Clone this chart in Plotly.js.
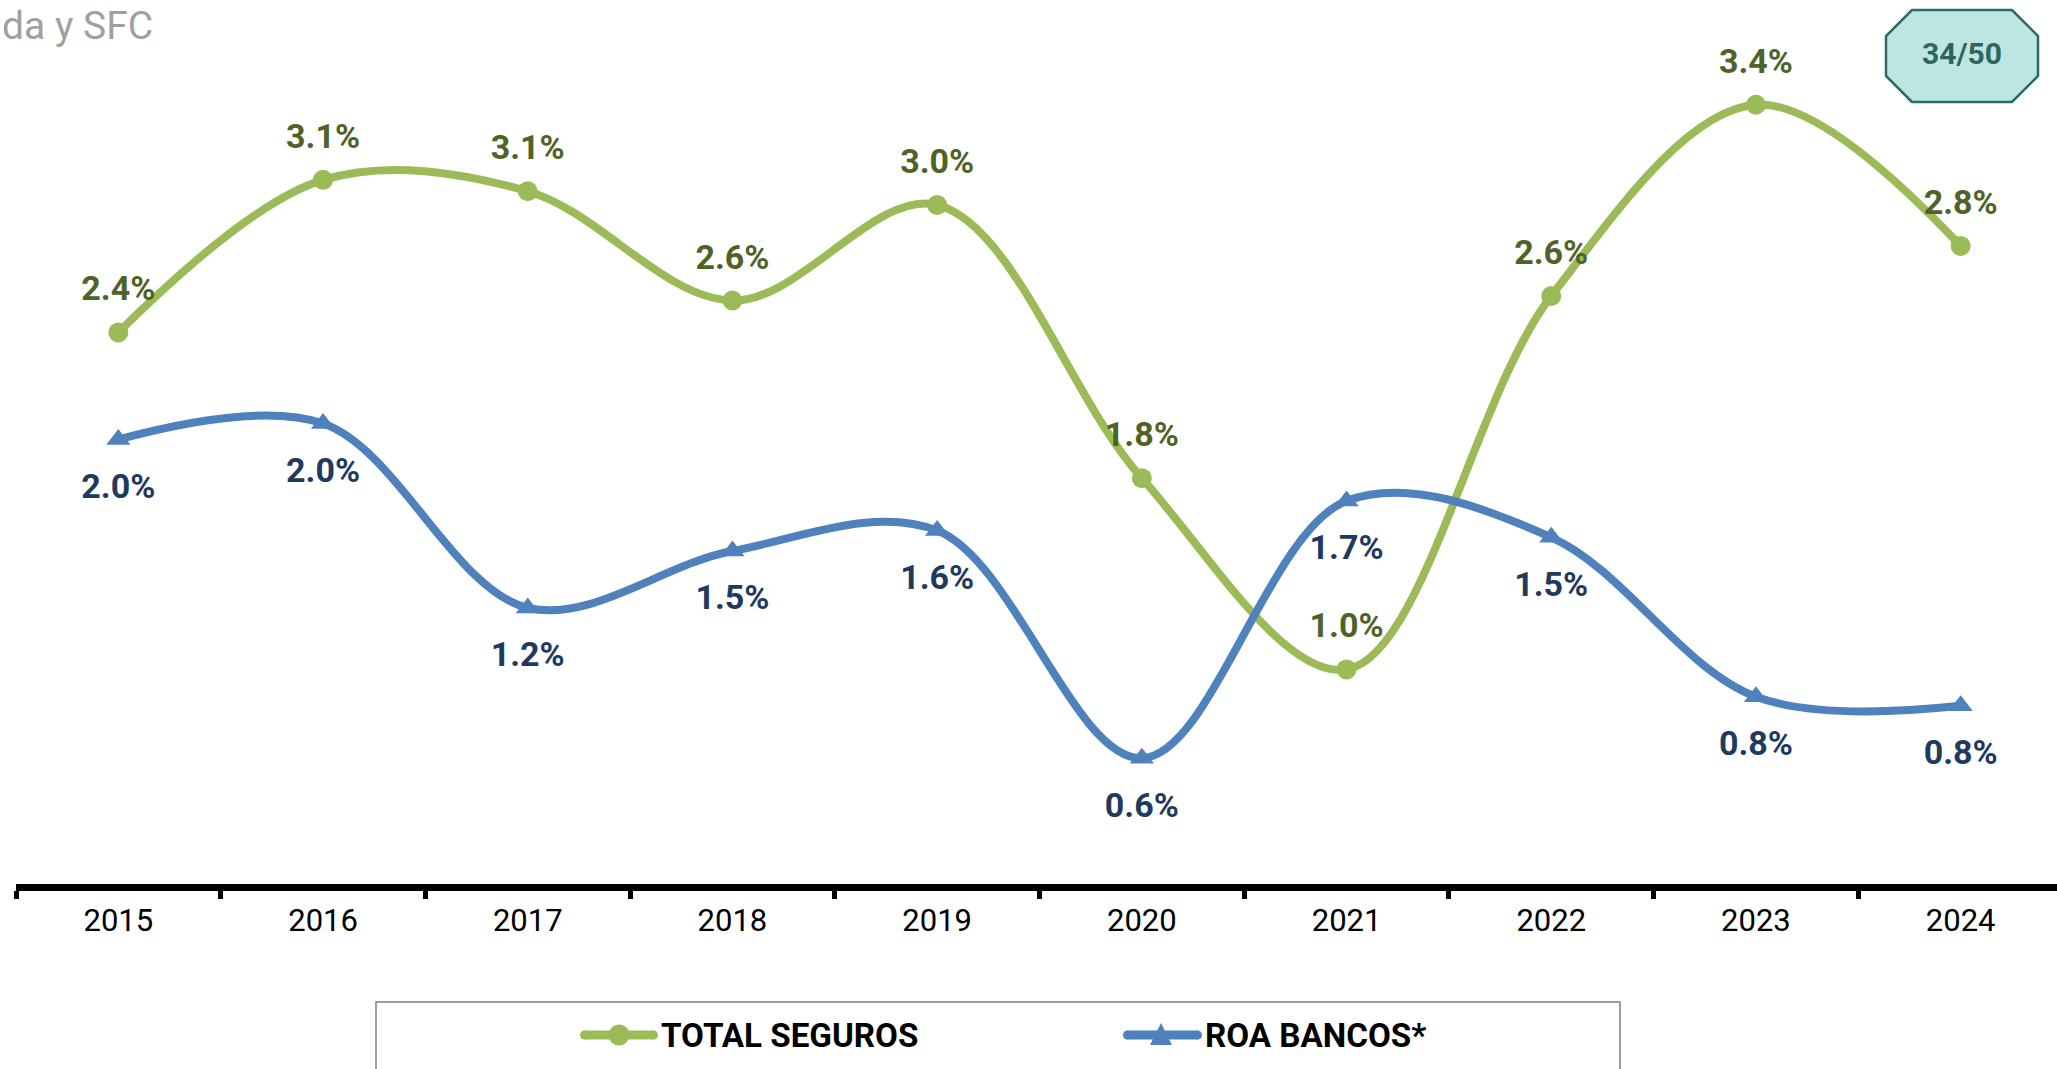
<!DOCTYPE html>
<html>
<head>
<meta charset="utf-8">
<script src="https://cdn.plot.ly/plotly-3.0.1.min.js"></script>
<style>
  html, body { margin: 0; padding: 0; background: #ffffff; }
  #chart { width: 2057px; height: 1069px; }
</style>
</head>
<body>
<div id="chart"></div>
<script>
// ---- data ----
const years = ['2015', '2016', '2017', '2018', '2019', '2020', '2021', '2022', '2023', '2024'];
const totalSeguros = [2.44, 3.11, 3.06, 2.58, 3.00, 1.80, 0.96, 2.60, 3.44, 2.82];
const roaBancos = [1.97, 2.04, 1.23, 1.48, 1.57, 0.57, 1.70, 1.54, 0.84, 0.80];
const seriesNames = ['TOTAL SEGUROS', 'ROA BANCOS*'];
const badgeText = '34/50';
const sourceText = 'da y SFC';

// ---- layout geometry ----
const W = 2057, H = 1069;
const M = { l: 16, r: 0, t: 60, b: 185 };
const plotW = W - M.l - M.r, plotH = H - M.t - M.b;
const pxPerUnit = 227.7;
const zeroPx = 888;
const yMin = -((H - M.b) - zeroPx) / pxPerUnit;
const yMax = (zeroPx - M.t) / pxPerUnit;
const px2x = px => (px - M.l) / plotW;
const py2y = py => ((H - M.b) - py) / plotH;

const FONT = 'Roboto, "Open Sans", sans-serif';
const GREEN = '#9BBB59', BLUE = '#4F81BD';
const GREEN_TXT = '#4F6228', BLUE_TXT = '#1F3A5F';
const LABEL_SIZE = 34;

const traces = [
  {
    type: 'scatter', mode: 'lines+markers',
    name: seriesNames[0], x: years, y: totalSeguros,
    line: { color: GREEN, width: 8, shape: 'spline', smoothing: 1 },
    marker: { color: GREEN, size: 20, symbol: 'circle' },
    cliponaxis: false, showlegend: false, hoverinfo: 'x+y'
  },
  {
    type: 'scatter', mode: 'lines+markers',
    name: seriesNames[1], x: years, y: roaBancos,
    line: { color: BLUE, width: 8, shape: 'spline', smoothing: 1 },
    marker: { color: BLUE, size: 21, symbol: 'triangle-up' },
    cliponaxis: false, showlegend: false, hoverinfo: 'x+y'
  },
  // data labels (invisible spacer markers set the label offset)
  {
    type: 'scatter', mode: 'markers+text', name: seriesNames[0] + ' labels',
    x: years, y: totalSeguros,
    marker: { size: 36, opacity: 0, color: GREEN },
    texttemplate: '%{y:.1f}%', textposition: 'top center',
    textfont: { family: FONT, size: LABEL_SIZE, color: GREEN_TXT, weight: 'bold' },
    cliponaxis: false, showlegend: false, hoverinfo: 'skip'
  },
  {
    type: 'scatter', mode: 'markers+text', name: seriesNames[1] + ' labels',
    x: years, y: roaBancos,
    marker: { size: 51, opacity: 0, color: BLUE },
    texttemplate: '%{y:.1f}%', textposition: 'bottom center',
    textfont: { family: FONT, size: LABEL_SIZE, color: BLUE_TXT, weight: 'bold' },
    cliponaxis: false, showlegend: false, hoverinfo: 'skip'
  }
];

// octagon badge
const bx0 = 1886, bx1 = 2038, by0 = 10, by1 = 102, cut = 26;
const oct = [
  [bx0 + cut, by0], [bx1 - cut, by0], [bx1, by0 + cut], [bx1, by1 - cut],
  [bx1 - cut, by1], [bx0 + cut, by1], [bx0, by1 - cut], [bx0, by0 + cut]
];
const toPath = pts => 'M' + pts.map(p => px2x(p[0]).toFixed(5) + ',' + py2y(p[1]).toFixed(5)).join(' L') + ' Z';

// legend geometry (custom legend)
const legY = 1035;
const leg = [
  { x0: 580, x1: 658, mk: 619, textX: 659, color: GREEN, sym: 'circle', name: seriesNames[0] },
  { x0: 1123, x1: 1202, mk: 1161, textX: 1203, color: BLUE, sym: 'triangle', name: seriesNames[1] }
];

const shapes = [
  {
    type: 'path', xref: 'paper', yref: 'paper', path: toPath(oct),
    fillcolor: '#BDE6E0', line: { color: '#2B6B63', width: 2.5 }, layer: 'above'
  },
  {
    type: 'rect', xref: 'paper', yref: 'paper',
    x0: px2x(376), x1: px2x(1620), y0: py2y(1002), y1: py2y(1080),
    line: { color: '#7F7F7F', width: 1.5 }, fillcolor: 'rgba(0,0,0,0)', layer: 'below'
  }
];
const annotations = [
  {
    text: badgeText, xref: 'paper', yref: 'paper', x: px2x(1962), y: py2y(54),
    xanchor: 'center', yanchor: 'middle', showarrow: false,
    font: { family: FONT, size: 30, color: '#2B6660', weight: 'bold' }
  },
  {
    text: sourceText, xref: 'paper', yref: 'paper', x: px2x(0), y: py2y(1),
    xanchor: 'left', yanchor: 'top', showarrow: false,
    font: { family: FONT, size: 39, color: '#A0A0A0' }
  }
];
leg.forEach(it => {
  shapes.push({
    type: 'line', xref: 'paper', yref: 'paper',
    x0: px2x(it.x0 + 4), x1: px2x(it.x1 - 4), y0: py2y(legY), y1: py2y(legY),
    line: { color: it.color, width: 9 }, layer: 'above'
  });
  if (it.sym === 'circle') {
    shapes.push({
      type: 'circle', xref: 'paper', yref: 'paper',
      x0: px2x(it.mk - 10.5), x1: px2x(it.mk + 10.5), y0: py2y(legY - 10.5), y1: py2y(legY + 10.5),
      fillcolor: it.color, line: { width: 0 }, layer: 'above'
    });
  } else {
    shapes.push({
      type: 'path', xref: 'paper', yref: 'paper',
      path: toPath([[it.mk, legY - 12], [it.mk + 11, legY + 10], [it.mk - 11, legY + 10]]),
      fillcolor: it.color, line: { width: 0 }, layer: 'above'
    });
  }
  annotations.push({
    text: it.name, xref: 'paper', yref: 'paper', x: px2x(it.textX), y: py2y(legY),
    xanchor: 'left', yanchor: 'middle', showarrow: false,
    font: { family: FONT, size: 33.2, color: '#000000', weight: 'bold' }
  });
});
// rounded ends of the legend lines
leg.forEach(it => {
  [it.x0 + 4.5, it.x1 - 4.5].forEach(cx => shapes.push({
    type: 'circle', xref: 'paper', yref: 'paper',
    x0: px2x(cx - 4.5), x1: px2x(cx + 4.5), y0: py2y(legY - 4.5), y1: py2y(legY + 4.5),
    fillcolor: it.color, line: { width: 0 }, layer: 'above'
  }));
});

const layout = {
  width: W, height: H,
  margin: M,
  paper_bgcolor: '#ffffff', plot_bgcolor: '#ffffff',
  font: { family: FONT, color: '#000000' },
  showlegend: false,
  xaxis: {
    type: 'category', range: [-0.5, -0.5 + plotW / 204.7],
    showline: true, linecolor: '#000000', linewidth: 7,
    ticks: 'outside', tickson: 'boundaries', ticklen: 8, tickwidth: 5, tickcolor: '#000000',
    ticklabelstandoff: 3,
    tickfont: { family: FONT, size: 31, color: '#000000' },
    showgrid: false, zeroline: false, fixedrange: true
  },
  yaxis: {
    range: [yMin, yMax], visible: false, showgrid: false, zeroline: false, fixedrange: true
  },
  shapes: shapes,
  annotations: annotations
};

Plotly.newPlot('chart', traces, layout, { displayModeBar: false, staticPlot: true });
</script>
</body>
</html>
